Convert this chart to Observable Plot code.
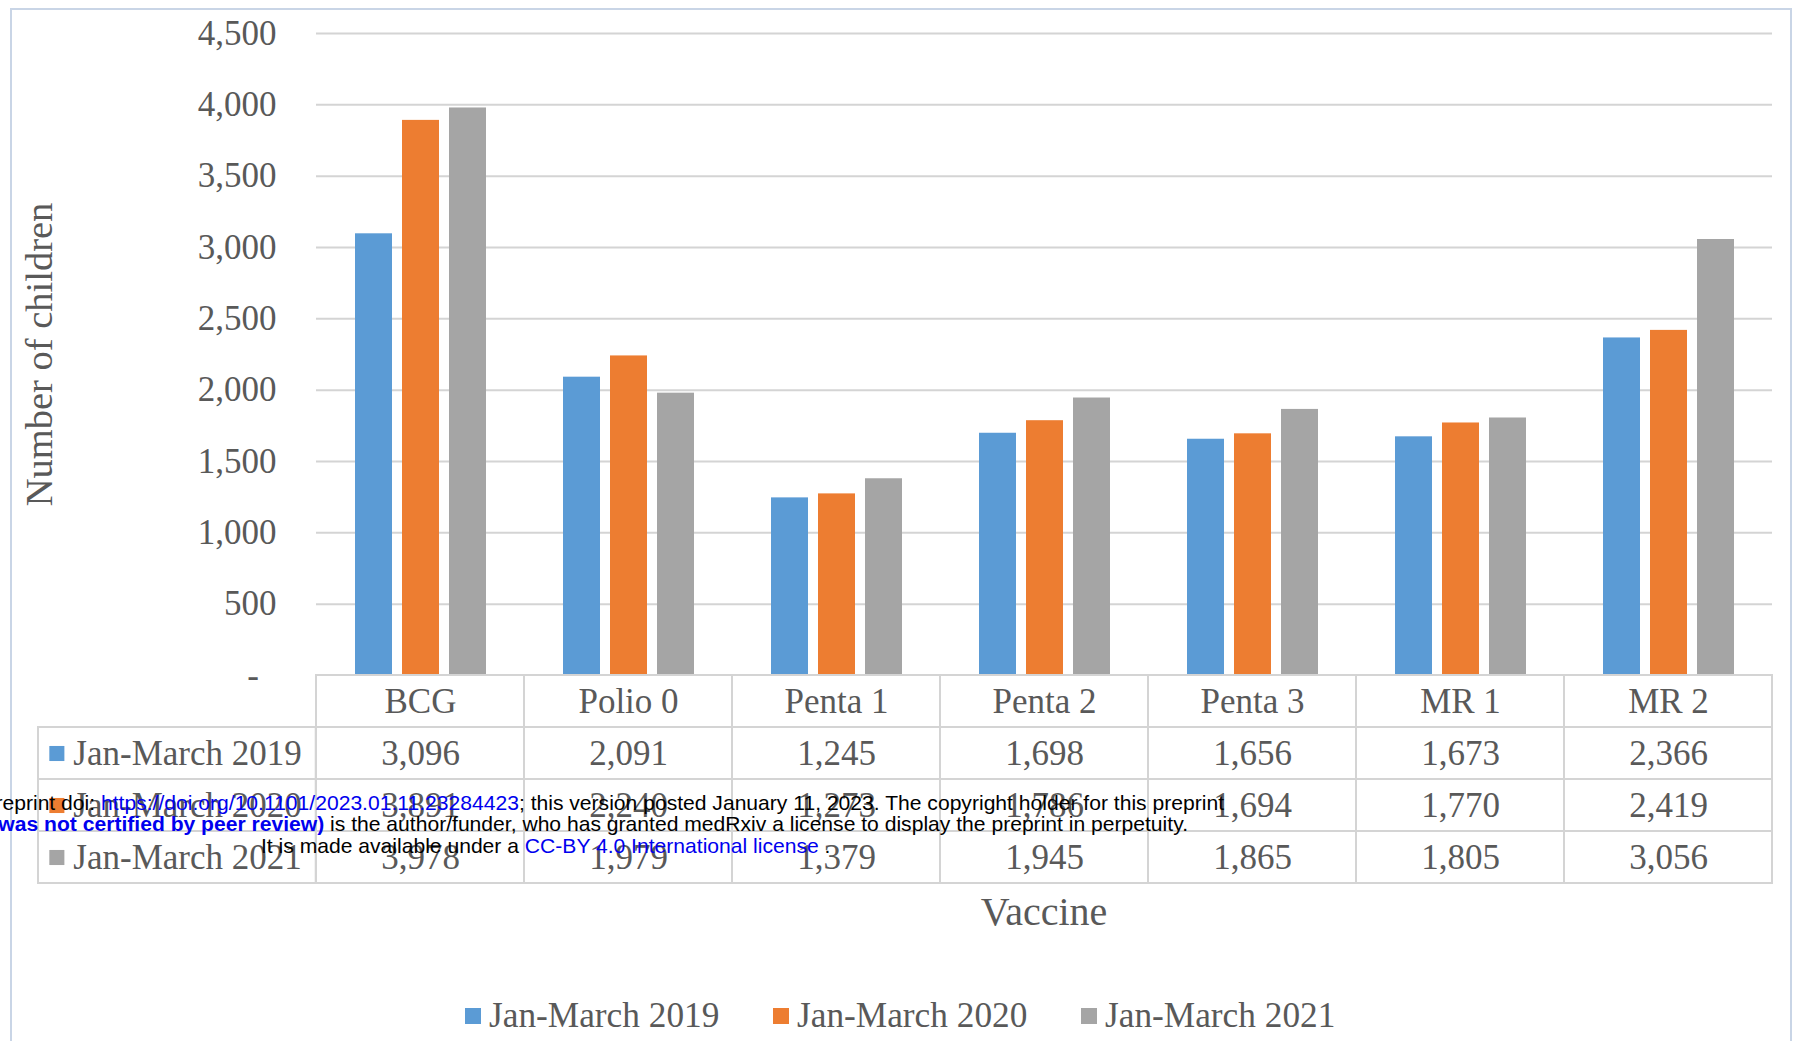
<!DOCTYPE html>
<html><head><meta charset="utf-8">
<script src="https://cdn.jsdelivr.net/npm/d3@7"></script>
<script src="https://cdn.jsdelivr.net/npm/@observablehq/plot@0.6"></script>
<style>
html,body{margin:0;padding:0;background:#fff;}
body{width:1795px;height:1041px;position:relative;overflow:hidden;font-family:"Liberation Serif",serif;color:#595959;}
#frame{position:absolute;left:10px;top:8px;width:1782px;height:1100px;border:2px solid #c9d5e6;box-sizing:border-box;}
#bars{position:absolute;left:0;top:0;}
#table{position:absolute;left:0;top:673px;}
#xlabel{position:absolute;left:315px;width:1458px;top:888px;text-align:center;font-size:40px;line-height:48px;color:#595959;}
#legend{position:absolute;left:465px;top:996px;}
.lg-swatches{display:flex !important;align-items:center;font-family:"Liberation Serif",serif !important;font-size:35.3px !important;color:#595959 !important;margin:0 !important;min-height:0 !important;}
.lg-swatch{width:308px;margin-right:0 !important;white-space:nowrap;}
.lg-swatch > svg{margin-right:8px !important;}
#stamp{position:absolute;left:0;top:0;width:1795px;height:1041px;pointer-events:none;font-family:"Liberation Sans",Arial,sans-serif;font-size:21.1px;line-height:21px;color:#000;}
#stamp div{position:absolute;white-space:nowrap;}
.blue{color:#0000ee;}
.bb{color:#0000ee;font-weight:bold;}
</style>
</head><body>
<div id="frame"></div>
<div id="bars"></div>
<div id="table"></div>
<div id="xlabel">Vaccine</div>
<div id="legend"></div>
<div id="stamp">
  <div style="right:571px;top:792px;">medRxiv preprint doi: <span class="blue">https://doi.org/10.1101/2023.01.11.23284423</span>; this version posted January 11, 2023. The copyright holder for this preprint</div>
  <div style="right:607px;top:813px;"><span class="bb">(which was not certified by peer review)</span> is the author/funder, who has granted medRxiv a license to display the preprint in perpetuity.</div>
  <div style="left:261px;top:835px;">It is made available under a <span class="blue">CC-BY 4.0 International license</span> .</div>
</div>
<script>
const vaccines = ["BCG", "Polio 0", "Penta 1", "Penta 2", "Penta 3", "MR 1", "MR 2"];
const periods = ["Jan-March 2019", "Jan-March 2020", "Jan-March 2021"];
const values2019 = [3096, 2091, 1245, 1698, 1656, 1673, 2366];
const values2020 = [3891, 2240, 1273, 1786, 1694, 1770, 2419];
const values2021 = [3978, 1979, 1379, 1945, 1865, 1805, 3056];
const colors = ["#5B9BD5", "#ED7D31", "#A5A5A5"];
const yTicks = [0, 500, 1000, 1500, 2000, 2500, 3000, 3500, 4000, 4500];
const yLabel = "Number of children";

const series = [values2019, values2020, values2021];
const rows = periods.flatMap((p, i) => vaccines.map((v, j) => ({vaccine: v, period: p, value: series[i][j]})));

const W = 1795, ML = 315, MR = 22;
const textColor = "#595959";
const lineColor = "#d4d4d4";
const fmt = d3.format(",");

const bars = Plot.plot({
  width: W, height: 700,
  marginTop: 33, marginBottom: 25, marginLeft: ML, marginRight: MR,
  style: {fontFamily: '"Liberation Serif", serif', fontSize: "35px", color: textColor, background: "transparent", overflow: "visible"},
  fx: {domain: vaccines, padding: 0, axis: null},
  x: {domain: periods, paddingInner: 0.22, paddingOuter: 0.82, axis: null},
  y: {domain: [0, 4500]},
  color: {domain: periods, range: colors},
  marks: [
    Plot.gridY(yTicks.filter(d => d > 0), {stroke: lineColor, strokeOpacity: 1, strokeWidth: 2}),
    Plot.axisY(yTicks, {tickSize: 0, tickPadding: 40, label: null, fill: textColor, fontSize: 35,
      tickFormat: d => d === 0 ? "-  " : fmt(d)}),
    Plot.axisY([], {tickSize: 0, label: yLabel, labelAnchor: "center", labelArrow: "none", labelOffset: 292, fill: textColor, fontSize: 38.5}),
    Plot.barY(rows, {fx: "vaccine", x: "period", y: "value", fill: "period"})
  ]
});
document.getElementById("bars").appendChild(bars);

const bw = (W - ML - MR) / vaccines.length;
const tableRowKeys = ["header", ...periods];
const first = vaccines[0];
const table = Plot.plot({
  width: W, height: 213,
  marginTop: 2, marginBottom: 3, marginLeft: ML, marginRight: MR,
  style: {fontFamily: '"Liberation Serif", serif', fontSize: "35px", color: textColor, background: "transparent", overflow: "visible"},
  x: {domain: vaccines, padding: 0, axis: null},
  y: {domain: tableRowKeys, padding: 0, axis: null},
  color: {domain: periods, range: colors},
  marks: [
    Plot.cell(vaccines, {x: d => d, y: () => "header", fill: "none", stroke: lineColor, strokeWidth: 2, inset: 0}),
    Plot.cell(rows, {x: "vaccine", y: "period", fill: "none", stroke: lineColor, strokeWidth: 2, inset: 0}),
    Plot.cell(periods, {x: () => first, y: d => d, fill: "none", stroke: lineColor, strokeWidth: 2,
      insetTop: 0, insetBottom: 0, insetLeft: -(ML - 37), insetRight: bw}),
    Plot.text(vaccines, {x: d => d, y: () => "header", text: d => d, fill: textColor, fontSize: 35}),
    Plot.text(rows, {x: "vaccine", y: "period", text: d => fmt(d.value), fill: textColor, fontSize: 35}),
    Plot.dot(periods, {x: () => first, y: d => d, fill: d => d, symbol: "square", r: 8.5, dx: 55.5 - (ML + bw / 2)}),
    Plot.text(periods, {x: () => first, y: d => d, text: d => d, textAnchor: "start", fill: textColor, fontSize: 35, dx: 72 - (ML + bw / 2)})
  ]
});
document.getElementById("table").appendChild(table);

const legend = bars.legend("color", {legend: "swatches", swatchSize: 16, className: "lg"});
document.getElementById("legend").appendChild(legend);
</script>
</body></html>
